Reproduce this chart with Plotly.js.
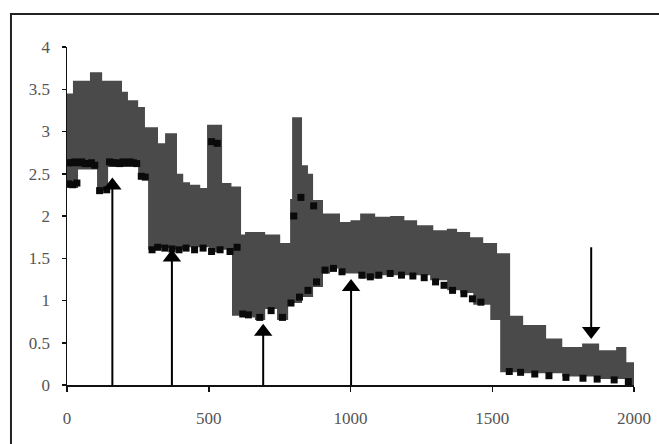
<!DOCTYPE html>
<html>
<head>
<meta charset="utf-8">
<script src="https://cdn.plot.ly/plotly-3.0.1.min.js"></script>
<style>html,body{margin:0;padding:0;background:#fff;}#chart{width:659px;height:444px;}</style>
</head>
<body>
<div id="chart"></div>
<script>
// Upper edge of the grey band of measurements (stepped)
const upperX = [0, 21, 81, 124, 194, 215, 251, 275, 321, 346, 388, 410, 434, 470, 494, 547, 580, 614, 628, 699, 752, 787, 794, 829, 850, 868, 903, 963, 1000, 1034, 1087, 1140, 1190, 1235, 1292, 1340, 1376, 1422, 1468, 1517, 1563, 1609, 1690, 1747, 1817, 1877, 1937, 1973, 2010];
const upperY = [3.45, 3.6, 3.7, 3.6, 3.47, 3.37, 3.29, 3.05, 2.86, 2.98, 2.5, 2.4, 2.37, 2.33, 3.08, 2.39, 2.35, 1.78, 1.81, 1.78, 1.68, 2.2, 3.17, 2.6, 2.5, 2.19, 2.03, 1.93, 1.95, 2.03, 1.99, 2.0, 1.95, 1.89, 1.83, 1.85, 1.81, 1.75, 1.68, 1.56, 0.82, 0.71, 0.55, 0.45, 0.49, 0.41, 0.45, 0.27, 0.27];
// Lower edge of the grey band (stepped)
const lowerX = [0, 39, 106, 145, 251, 286, 330, 380, 430, 500, 540, 582, 653, 663, 699, 741, 780, 829, 868, 903, 928, 963, 1034, 1104, 1210, 1281, 1341, 1387, 1433, 1493, 1528, 1599, 1747, 1867, 1987, 2010];
const lowerY = [2.33, 2.55, 2.3, 2.58, 2.46, 1.6, 1.62, 1.6, 1.63, 1.57, 1.6, 0.82, 0.8, 0.77, 0.9, 0.77, 0.97, 1.04, 1.16, 1.32, 1.38, 1.32, 1.26, 1.3, 1.3, 1.24, 1.12, 1.09, 0.95, 0.77, 0.15, 0.14, 0.1, 0.07, 0.0, 0.0];
// Black points
const blackX = [5, 16, 28, 40, 52, 64, 75, 86, 98, 150, 162, 174, 186, 198, 210, 222, 234, 246, 5, 20, 35, 115, 140, 262, 276, 510, 530, 300, 320, 345, 370, 395, 420, 450, 480, 510, 540, 575, 600, 620, 640, 680, 720, 760, 790, 820, 850, 880, 800, 825, 870, 910, 940, 970, 1040, 1070, 1100, 1140, 1180, 1220, 1260, 1300, 1330, 1360, 1400, 1430, 1460, 1560, 1600, 1650, 1700, 1760, 1820, 1870, 1930, 1980];
const blackY = [2.63, 2.63, 2.64, 2.63, 2.64, 2.62, 2.62, 2.63, 2.6, 2.64, 2.63, 2.63, 2.62, 2.64, 2.63, 2.64, 2.63, 2.62, 2.38, 2.37, 2.39, 2.3, 2.31, 2.47, 2.46, 2.88, 2.86, 1.6, 1.63, 1.62, 1.61, 1.6, 1.62, 1.6, 1.62, 1.58, 1.6, 1.58, 1.63, 0.84, 0.83, 0.8, 0.88, 0.8, 0.97, 1.04, 1.12, 1.22, 2.0, 2.22, 2.12, 1.36, 1.38, 1.34, 1.3, 1.28, 1.3, 1.32, 1.3, 1.29, 1.27, 1.22, 1.18, 1.12, 1.08, 1.02, 0.98, 0.16, 0.15, 0.13, 0.11, 0.09, 0.08, 0.07, 0.06, 0.04];
// Arrows
const arrowX = [160, 370, 692, 1002, 1849];
const arrowBase = [0, 0, 0, 0, 1.63];
const arrowTip = [2.36, 1.51, 0.63, 1.16, 0.64];
const arrowDir = ['up', 'up', 'up', 'up', 'down'];
const xTicks = [0, 500, 1000, 1500, 2000];
const yTicks = [0, 0.5, 1, 1.5, 2, 2.5, 3, 3.5, 4];

const grey = '#4a4a4a';
const traces = [];
traces.push({x: upperX, y: upperY, type: 'scatter', mode: 'lines', line: {shape: 'hv', width: 0, color: grey}, hoverinfo: 'skip'});
traces.push({x: lowerX, y: lowerY, type: 'scatter', mode: 'lines', line: {shape: 'hv', width: 0, color: grey}, fill: 'tonexty', fillcolor: grey, hoverinfo: 'skip'});
traces.push({x: blackX, y: blackY, type: 'scatter', mode: 'markers', marker: {symbol: 'square', size: 7, color: '#0a0a0a'}});
const lx = [], ly = [];
arrowX.forEach((x, i) => { lx.push(x, x, null); ly.push(arrowBase[i], arrowTip[i], null); });
traces.push({x: lx, y: ly, type: 'scatter', mode: 'lines', line: {color: '#000', width: 2}, cliponaxis: false});
traces.push({x: arrowX, y: arrowTip, type: 'scatter', mode: 'markers', cliponaxis: false,
  marker: {symbol: arrowDir.map(d => d === 'up' ? 'triangle-up' : 'triangle-down'), size: 16, color: '#000'}});

const tickFont = {family: 'Liberation Serif', size: 17, color: '#555'};
const layout = {
  width: 659, height: 444,
  margin: {l: 67, r: 25, t: 47, b: 59},
  paper_bgcolor: '#fff', plot_bgcolor: '#fff',
  showlegend: false,
  xaxis: {range: [0, 2000], tickvals: xTicks, ticktext: xTicks.map(String), showgrid: false, zeroline: false,
    showline: true, linecolor: '#111', linewidth: 1.5, ticks: 'outside', ticklen: 5, tickwidth: 1.5, tickcolor: '#111',
    tickfont: tickFont, ticklabelstandoff: 12},
  yaxis: {range: [0, 4], tickvals: yTicks, ticktext: yTicks.map(String), showgrid: false, zeroline: false,
    showline: true, linecolor: '#111', linewidth: 1.5, ticks: 'outside', ticklen: 4, tickwidth: 1.5, tickcolor: '#111',
    tickfont: tickFont, ticklabelstandoff: 8},
  shapes: [{type: 'rect', xref: 'paper', yref: 'paper', x0: -0.0988, x1: 1.3, y0: -0.4, y1: 1.0976,
    line: {color: '#222', width: 2}}]
};
Plotly.newPlot('chart', traces, layout, {staticPlot: true});
</script>
</body>
</html>
